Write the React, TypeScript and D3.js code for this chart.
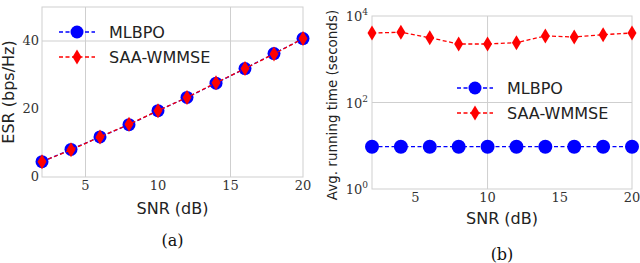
import React from 'react';
import * as d3 from 'd3';

// SNR sweep shared by both panels
const snr = [2, 4, 6, 8, 10, 12, 14, 16, 18, 20];
const esrMlbpo = [4.5, 8.1, 11.8, 15.4, 19.5, 23.4, 27.6, 31.9, 36.3, 40.7];
const esrWmmse = [4.5, 8.0, 11.8, 15.5, 19.5, 23.4, 27.7, 31.9, 36.2, 40.7];
const timeMlbpo = [9.5, 9.5, 9.5, 9.5, 9.5, 9.5, 9.5, 9.5, 9.5, 9.5];
const timeWmmse = [4050, 4200, 3150, 2250, 2250, 2420, 3450, 3270, 3700, 4050];
const xTicks = [5, 10, 15, 20];
const esrTicks = [0, 20, 40];
const logTicks = [0, 2, 4];

const BLUE = '#0000ff';
const RED = '#ff0000';
const GRID = '#cfcfcf';
const SANS = '"DejaVu Sans", sans-serif';
const SERIF = '"DejaVu Serif", serif';

const diamond = (cx: number, cy: number, w = 4.5, h = 7.5) =>
  `M${cx},${cy - h}L${cx + w},${cy}L${cx},${cy + h}L${cx - w},${cy}Z`;

function Legend({ x, y }: { x: number; y: number }) {
  return (
    <g>
      <line x1={x} x2={x + 36} y1={y} y2={y} stroke={BLUE} strokeWidth={1.3} strokeDasharray="4,2.5" />
      <circle cx={x + 18} cy={y} r={6.5} fill={BLUE} />
      <text x={x + 50} y={y + 6} fontFamily={SANS} fontSize={16} fill="#222">MLBPO</text>
      <line x1={x} x2={x + 36} y1={y + 25} y2={y + 25} stroke={RED} strokeWidth={1.3} strokeDasharray="4,2.5" />
      <path d={diamond(x + 18, y + 25)} fill={RED} />
      <text x={x + 50} y={y + 31} fontFamily={SANS} fontSize={16} fill="#222">SAA-WMMSE</text>
    </g>
  );
}

function EsrPanel() {
  const left = 42, right = 303, top = 7, bottom = 177;
  const x = d3.scaleLinear().domain([2, 20]).range([left, right]);
  const y = d3.scaleLinear().domain([0, 50]).range([bottom, top]);
  const line = d3.line<number>().x((_, i) => x(snr[i])).y(v => y(v));
  return (
    <g>
      {[5, 15].map(t => (
        <line key={t} x1={x(t)} x2={x(t)} y1={top} y2={bottom} stroke={GRID} strokeWidth={1} />
      ))}
      <line x1={left} x2={right} y1={y(40)} y2={y(40)} stroke={GRID} strokeWidth={1} />
      <rect x={left} y={top} width={right - left} height={bottom - top} fill="none" stroke={GRID} strokeWidth={1} />
      <path d={line(esrMlbpo) ?? ''} fill="none" stroke={BLUE} strokeWidth={1.3} strokeDasharray="4,2.5" />
      {esrMlbpo.map((v, i) => (
        <circle key={i} cx={x(snr[i])} cy={y(v)} r={6.5} fill={BLUE} />
      ))}
      <path d={line(esrWmmse) ?? ''} fill="none" stroke={RED} strokeWidth={1.3} strokeDasharray="4,2.5" />
      {esrWmmse.map((v, i) => (
        <path key={i} d={diamond(x(snr[i]), y(v))} fill={RED} />
      ))}
      {xTicks.map(t => (
        <text key={t} x={x(t)} y={190} textAnchor="middle" fontFamily={SERIF} fontSize={13} fill="#333">{t}</text>
      ))}
      {esrTicks.map(t => (
        <text key={t} x={left - 3} y={y(t) + 4} textAnchor="end" fontFamily={SERIF} fontSize={13} fill="#333">{t}</text>
      ))}
      <Legend x={59} y={32} />
      <text x={(left + right) / 2} y={214} textAnchor="middle" fontFamily={SANS} fontSize={16} fill="#222">SNR (dB)</text>
      <text transform={`translate(14,${(top + bottom) / 2}) rotate(-90)`} textAnchor="middle" fontFamily={SANS} fontSize={16} fill="#222">ESR (bps/Hz)</text>
      <text x={(left + right) / 2} y={246} textAnchor="middle" fontFamily={SERIF} fontSize={16} fill="#111">(a)</text>
    </g>
  );
}

function TimePanel() {
  const left = 372, right = 632, top = 16, bottom = 189;
  const x = d3.scaleLinear().domain([2, 20]).range([left, right]);
  const y = d3.scaleLog().domain([1, 1e4]).range([bottom, top]);
  const line = d3.line<number>().x((_, i) => x(snr[i])).y(v => y(v));
  return (
    <g>
      <line x1={x(10)} x2={x(10)} y1={top} y2={bottom} stroke={GRID} strokeWidth={1} />
      <line x1={left} x2={right} y1={y(100)} y2={y(100)} stroke={GRID} strokeWidth={1} />
      <rect x={left} y={top} width={right - left} height={bottom - top} fill="none" stroke={GRID} strokeWidth={1} />
      <path d={line(timeMlbpo) ?? ''} fill="none" stroke={BLUE} strokeWidth={1.3} strokeDasharray="4,2.5" />
      {timeMlbpo.map((v, i) => (
        <circle key={i} cx={x(snr[i])} cy={y(v)} r={7} fill={BLUE} />
      ))}
      <path d={line(timeWmmse) ?? ''} fill="none" stroke={RED} strokeWidth={1.3} strokeDasharray="4,2.5" />
      {timeWmmse.map((v, i) => (
        <path key={i} d={diamond(x(snr[i]), y(v))} fill={RED} />
      ))}
      {xTicks.map(t => (
        <text key={t} x={x(t)} y={202} textAnchor="middle" fontFamily={SERIF} fontSize={13} fill="#333">{t}</text>
      ))}
      {logTicks.map(p => (
        <text key={p} x={left - 4} y={y(Math.pow(10, p)) + 5} textAnchor="end" fontFamily={SERIF} fontSize={13} fill="#333">
          10<tspan dy={-6} fontSize={9}>{p}</tspan>
        </text>
      ))}
      <Legend x={457} y={88} />
      <text x={(left + right) / 2} y={224} textAnchor="middle" fontFamily={SANS} fontSize={16} fill="#222">SNR (dB)</text>
      <text transform="translate(337,105) rotate(-90)" textAnchor="middle" fontFamily={SANS} fontSize={13.5}
        fill="#222">Avg. running time (seconds)</text>
      <text x={(left + right) / 2} y={260} textAnchor="middle" fontFamily={SERIF} fontSize={16} fill="#111">(b)</text>
    </g>
  );
}

export default function App() {
  return (
    <svg width={640} height={263} style={{ position: 'absolute', left: 0, top: 0, background: '#fff' }}>
      <EsrPanel />
      <TimePanel />
    </svg>
  );
}
